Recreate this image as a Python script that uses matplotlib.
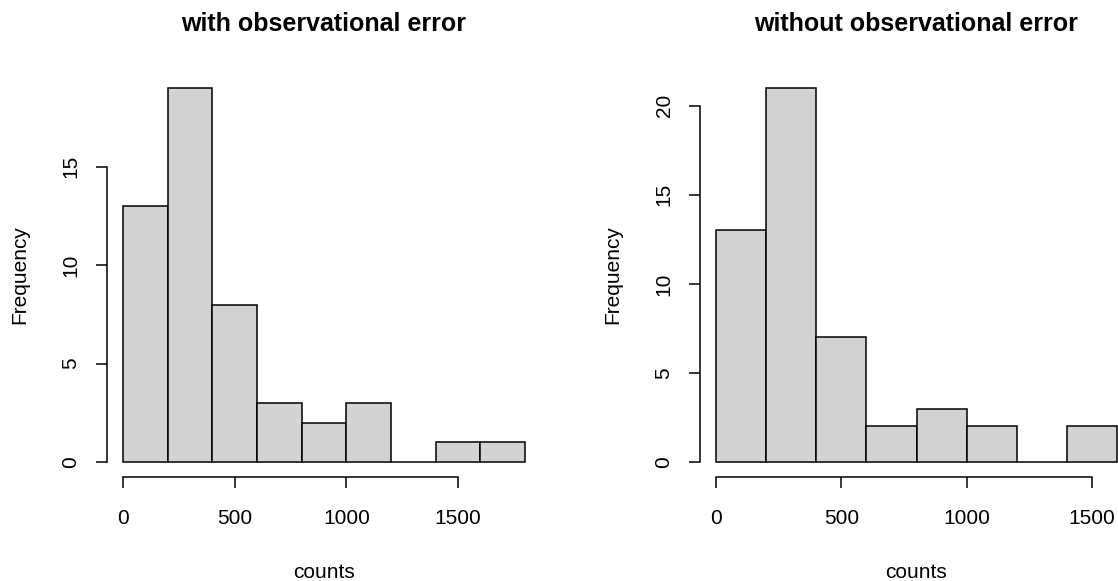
import matplotlib.pyplot as plt
import numpy as np

plt.rcParams['font.family'] = ['Liberation Sans', 'DejaVu Sans']

# histogram bins (counts) and frequencies
edges_obs = [0, 200, 400, 600, 800, 1000, 1200, 1400, 1600, 1800]
freq_obs = [13, 19, 8, 3, 2, 3, 0, 1, 1]

edges_true = [0, 200, 400, 600, 800, 1000, 1200, 1400, 1600]
freq_true = [13, 21, 7, 2, 3, 2, 0, 2]

titles = ["with observational error", "without observational error"]
xticks = [0, 500, 1000, 1500]
yticks_obs = [0, 5, 10, 15]
yticks_true = [0, 5, 10, 15, 20]


def r_hist(ax, edges, freq, title, yticks):
    edges = np.asarray(edges, dtype=float)
    ax.bar(edges[:-1], freq, width=np.diff(edges), align='edge',
           color='#d3d3d3', edgecolor='black', linewidth=1.1)

    # R pads the data range by 4% on each side
    xr = edges[-1] - edges[0]
    ax.set_xlim(edges[0] - 0.04 * xr, edges[-1] + 0.04 * xr)
    yr = max(freq)
    ax.set_ylim(-0.04 * yr, yr * 1.04)

    for s in ['top', 'right']:
        ax.spines[s].set_visible(False)
    ax.spines['bottom'].set_bounds(xticks[0], xticks[-1])
    ax.spines['left'].set_bounds(yticks[0], yticks[-1])
    ax.spines['bottom'].set_linewidth(1.1)
    ax.spines['left'].set_linewidth(1.1)

    ax.set_xticks(xticks)
    ax.set_yticks(yticks)
    ax.tick_params(axis='both', length=8, width=1.1, labelsize=15,
                   colors='black')
    ax.tick_params(axis='x', pad=15)
    ax.tick_params(axis='y', pad=11, labelrotation=90)
    for lab in ax.get_yticklabels():
        lab.set_va('center')

    ax.set_xlabel("counts", fontsize=15, labelpad=25)
    ax.set_ylabel("Frequency", fontsize=15, labelpad=23)
    ax.set_title(title, fontsize=18, fontweight='bold', pad=30)


fig = plt.figure(figsize=(11.18, 5.81), dpi=100)
ax1 = fig.add_axes([107 / 1118, 104 / 581, 434 / 1118, 404 / 581])
ax2 = fig.add_axes([700 / 1118, 104 / 581, 433 / 1118, 404 / 581])

r_hist(ax1, edges_obs, freq_obs, titles[0], yticks_obs)
r_hist(ax2, edges_true, freq_true, titles[1], yticks_true)

fig.savefig("out.png", dpi=100)
